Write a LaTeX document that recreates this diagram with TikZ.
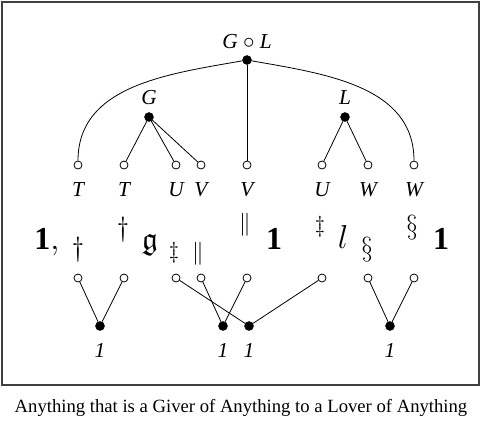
\documentclass[tikz,border=0pt]{standalone}
\usepackage{amsmath, amssymb}
\usepackage{fontspec}
\setmainfont{Liberation Serif}
\usepackage{tikz}
\usetikzlibrary{calc}

\tikzset{
  fdot/.style={circle,fill,draw,inner sep=0pt,minimum size=6.5pt},
  odot/.style={circle,fill=white,draw,line width=0.6pt,inner sep=0pt,minimum size=6pt},
  lab/.style={font=\fontsize{16}{18}\selectfont\itshape,inner sep=0pt},
  big/.style={font=\fontsize{24}{26}\selectfont,inner sep=0pt},
  mid/.style={font=\fontsize{21}{23}\selectfont,inner sep=0pt},
  sml/.style={font=\fontsize{17}{19}\selectfont,inner sep=0pt},
}

\begin{document}
\begin{tikzpicture}[x=0.75pt, y=-0.75pt, line width=0.6pt]
  \useasboundingbox (0,0) rectangle (482,433);
  \draw[line width=1.3pt, black!75] (2,2) rectangle (479,385);

  % upper tree
  \node[fdot] (gl) at (247,60) {};
  \node[fdot] (g)  at (149,117) {};
  \node[fdot] (l)  at (345,117) {};
  \node[lab] at (247,42) {G {\upshape$\circ$} L};
  \node[lab] at (149,98) {G};
  \node[lab] at (345,98) {L};

  \foreach \x/\n/\t in {78/t1/T, 124/t2/T, 176/u1/U, 201/v1/V, 247/v2/V, 322/u2/U, 368/w1/W, 414/w2/W}{
    \node[odot] (\n) at (\x,165) {};
    \node[lab] at (\x,190) {\t};
    \node[odot] (b\n) at (\x,278) {};
  }

  \draw (gl) to[out=190,in=90] (t1);
  \draw (gl) to[out=-10,in=90] (w2);
  \draw (gl) -- (v2);
  \draw (g) -- (t2) (g) -- (u1) (g) -- (v1);
  \draw (l) -- (u2) (l) -- (w1);

  % middle row
  \node[big,anchor=base] at (47,249) {$\mathbf{1},$};
  \node[mid] at (78,250) {$\dagger$};
  \node[mid] at (123,230) {$\dagger$};
  \node[big] at (150,245) {$\mathfrak{g}$};
  \node[sml] at (174,253) {$\ddagger$};
  \node[sml] at (198,254) {$\|$};
  \node[sml] at (245,225) {$\|$};
  \node[big] at (274,239) {$\mathbf{1}$};
  \node[sml] at (320,227) {$\ddagger$};
  \node[big] at (343,237) {$l$};
  \node[mid] at (367,250) {$\S$};
  \node[mid] at (412,228) {$\S$};
  \node[big] at (441,239) {$\mathbf{1}$};

  % lower dots
  \node[fdot] (d1) at (100,326) {};
  \node[fdot] (d2) at (223,326) {};
  \node[fdot] (d3) at (249,326) {};
  \node[fdot] (d4) at (390,326) {};
  \foreach \n/\x in {d1/100, d2/223, d3/249, d4/390}
    \node[lab] at (\x,350) {1};

  \draw (d1) -- (bt1) (d1) -- (bt2);
  \draw (d2) -- (bv1) (d2) -- (bv2);
  \draw (d3) -- (bu1) (d3) -- (bu2);
  \draw (d4) -- (bw1) (d4) -- (bw2);

  \node[font=\fontsize{14}{16}\selectfont] at (241,408)
    {Anything that is a Giver of Anything to a Lover of Anything};
\end{tikzpicture}
\end{document}
